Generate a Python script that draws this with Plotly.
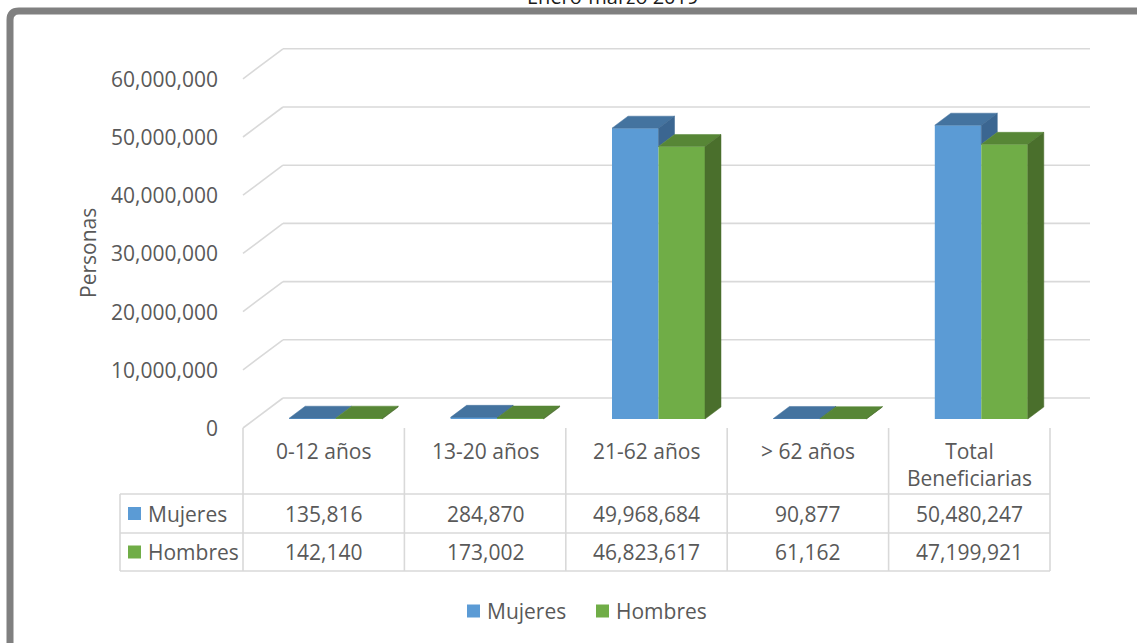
import plotly.graph_objects as go

# ---------------- data ----------------
categories = ["0-12 años", "13-20 años", "21-62 años", "> 62 años", "Total<br>Beneficiarias"]
series_names = ["Mujeres", "Hombres"]
mujeres = [135816, 284870, 49968684, 90877, 50480247]
hombres = [142140, 173002, 46823617, 61162, 47199921]
y_ticks = [0, 10000000, 20000000, 30000000, 40000000, 50000000, 60000000]
title_text = "Enero-marzo 2019"
y_title = "Personas"

# ---------------- styling / geometry ----------------
W, H = 1137, 643
FONT = "Open Sans"
TXT = "#595959"
GRID = "#D9D9D9"
FRONT = ["#5B9BD5", "#70AD47"]
TOP = ["#44739F", "#578636"]
SIDE = ["#3B6691", "#4A6F2C"]

COL_PX = 161.4          # pixel width of one category
X0_PX = 243             # pixel x of category boundary -0.5
Y0_PX = 428             # pixel y of value 0 on the front plane
PXY = 58.2 / 10000000   # pixels per person

x_range = [-0.5 - X0_PX / COL_PX, -0.5 + (W - X0_PX) / COL_PX]
y_range = [-(H - Y0_PX) / PXY, Y0_PX / PXY]

DXB = 40 / COL_PX       # full depth shift in x units
DYB = 30 / PXY          # full depth shift in y units
D_FRONT, D_BACK = 0.3, 0.7
BW = 46.5 / COL_PX      # bar width in x units

fx, fy = D_FRONT * DXB, D_FRONT * DYB
bdx, bdy = (D_BACK - D_FRONT) * DXB, (D_BACK - D_FRONT) * DYB


def px(xp):
    return xp / W


def py(yp):
    return 1 - yp / H


fig = go.Figure()

# front faces
series = [mujeres, hombres]
offsets = [-BW / 2, BW / 2]
for s, vals in enumerate(series):
    fig.add_trace(go.Bar(
        x=[i + fx + offsets[s] for i in range(len(categories))],
        y=vals,
        base=[fy] * len(vals),
        width=BW,
        marker=dict(color=FRONT[s], line=dict(width=0)),
        name=series_names[s],
        showlegend=False,
        hoverinfo="skip",
    ))


def poly_trace(xs, ys, color):
    return go.Scatter(x=xs, y=ys, mode="lines", fill="toself", fillcolor=color,
                      line=dict(color=color, width=0.5), showlegend=False,
                      hoverinfo="skip")


for s, vals in enumerate(series):
    tx, ty, sx, sy = [], [], [], []
    for i, v in enumerate(vals):
        xl = i + fx + offsets[s] - BW / 2
        xr = xl + BW
        top = fy + v
        # top face
        tx += [xl, xr, xr + bdx, xl + bdx, xl, None]
        ty += [top, top, top + bdy, top + bdy, top, None]
        # side face (mujeres side only visible above hombres)
        lo = fy
        if s == 0:
            lo = fy + hombres[i]
            if lo >= top:
                continue
        sx += [xr, xr, xr + bdx, xr + bdx, xr, None]
        sy += [lo, top, top + bdy, lo + bdy, lo, None]
    fig.add_trace(poly_trace(tx, ty, TOP[s]))
    if sx:
        fig.add_trace(poly_trace(sx, sy, SIDE[s]))

shapes = []
annotations = []
n = len(categories)

# gridlines (left wall diagonal + back wall)
for v in y_ticks:
    shapes.append(dict(type="line", xref="x", yref="y", layer="below",
                       x0=-0.5, y0=v, x1=-0.5 + DXB, y1=v + DYB,
                       line=dict(color=GRID, width=1.6)))
    shapes.append(dict(type="line", xref="x", yref="y", layer="below",
                       x0=-0.5 + DXB, y0=v + DYB, x1=n - 0.5 + DXB, y1=v + DYB,
                       line=dict(color=GRID, width=1.6)))
    annotations.append(dict(xref="x", yref="y", x=-0.5, y=v, xshift=-23,
                            xanchor="right", yanchor="middle", showarrow=False,
                            text=f"{v:,}", font=dict(family=FONT, size=21, color=TXT)))

# data table
ROW_TOP, ROW_MID, ROW_BOT = 494, 533, 571
for k in range(n + 1):
    shapes.append(dict(type="line", xref="x", yref="paper", x0=k - 0.5, x1=k - 0.5,
                       y0=py(Y0_PX), y1=py(ROW_BOT), line=dict(color=GRID, width=1.6)))
for yy in (ROW_TOP, ROW_MID, ROW_BOT):
    shapes.append(dict(type="line", xref="paper", yref="paper", x0=px(120), x1=px(X0_PX + n * COL_PX),
                       y0=py(yy), y1=py(yy), line=dict(color=GRID, width=1.6)))
shapes.append(dict(type="line", xref="paper", yref="paper", x0=px(120), x1=px(120),
                   y0=py(ROW_TOP), y1=py(ROW_BOT), line=dict(color=GRID, width=1.6)))

for i, c in enumerate(categories):
    annotations.append(dict(xref="x", yref="paper", x=i, y=py(451 if "<br>" not in c else 465),
                            showarrow=False, text=c, xanchor="center", yanchor="middle",
                            font=dict(family=FONT, size=21, color=TXT)))
row_centers = [(ROW_TOP + ROW_MID) / 2, (ROW_MID + ROW_BOT) / 2]
for s, vals in enumerate(series):
    yc = row_centers[s]
    for i, v in enumerate(vals):
        annotations.append(dict(xref="x", yref="paper", x=i, y=py(yc), showarrow=False,
                                text=f"{v:,}", xanchor="center", yanchor="middle",
                                font=dict(family=FONT, size=21, color=TXT)))
    shapes.append(dict(type="rect", xref="paper", yref="paper", x0=px(128), x1=px(141),
                       y0=py(yc - 6.5), y1=py(yc + 6.5), fillcolor=FRONT[s], line=dict(width=0)))
    annotations.append(dict(xref="paper", yref="paper", x=px(146), y=py(yc), showarrow=False,
                            text=series_names[s], xanchor="left", yanchor="middle",
                            font=dict(family=FONT, size=21, color=TXT)))

# legend
LEG_Y = 611
leg_sq = [467, 596]
for s in range(2):
    shapes.append(dict(type="rect", xref="paper", yref="paper", x0=px(leg_sq[s]), x1=px(leg_sq[s] + 13),
                       y0=py(LEG_Y - 6.5), y1=py(LEG_Y + 6.5), fillcolor=FRONT[s], line=dict(width=0)))
    annotations.append(dict(xref="paper", yref="paper", x=px(leg_sq[s] + 18), y=py(LEG_Y), showarrow=False,
                            text=series_names[s], xanchor="left", yanchor="middle",
                            font=dict(family=FONT, size=21, color=TXT)))

# axis title
annotations.append(dict(xref="paper", yref="paper", x=px(88), y=py(253), showarrow=False,
                        text=y_title, textangle=-90, xanchor="center", yanchor="middle",
                        font=dict(family=FONT, size=21, color=TXT)))
# title (cut at top, as in the source image)
annotations.append(dict(xref="paper", yref="paper", x=px(612), y=py(12), showarrow=False,
                        text=title_text, xanchor="center", yanchor="bottom",
                        font=dict(family=FONT, size=20, color="#1a1a1a")))

# chart border
shapes.append(dict(type="path", xref="paper", yref="paper",
                   path=f"M {px(10)} {py(H + 20)} L {px(10)} {py(20)} Q {px(10)} {py(11)} {px(19)} {py(11)} L {px(W + 20)} {py(11)}",
                   line=dict(color="#808080", width=7)))

fig.update_layout(
    width=W, height=H,
    margin=dict(l=0, r=0, t=0, b=0),
    paper_bgcolor="white", plot_bgcolor="white",
    barmode="overlay",
    showlegend=False,
    xaxis=dict(range=x_range, visible=False, fixedrange=True),
    yaxis=dict(range=y_range, visible=False, fixedrange=True),
    shapes=shapes,
    annotations=annotations,
)

fig.write_html("out.html", config={"displayModeBar": False},
               post_script="document.body.style.margin='0';document.body.style.overflow='hidden';")
